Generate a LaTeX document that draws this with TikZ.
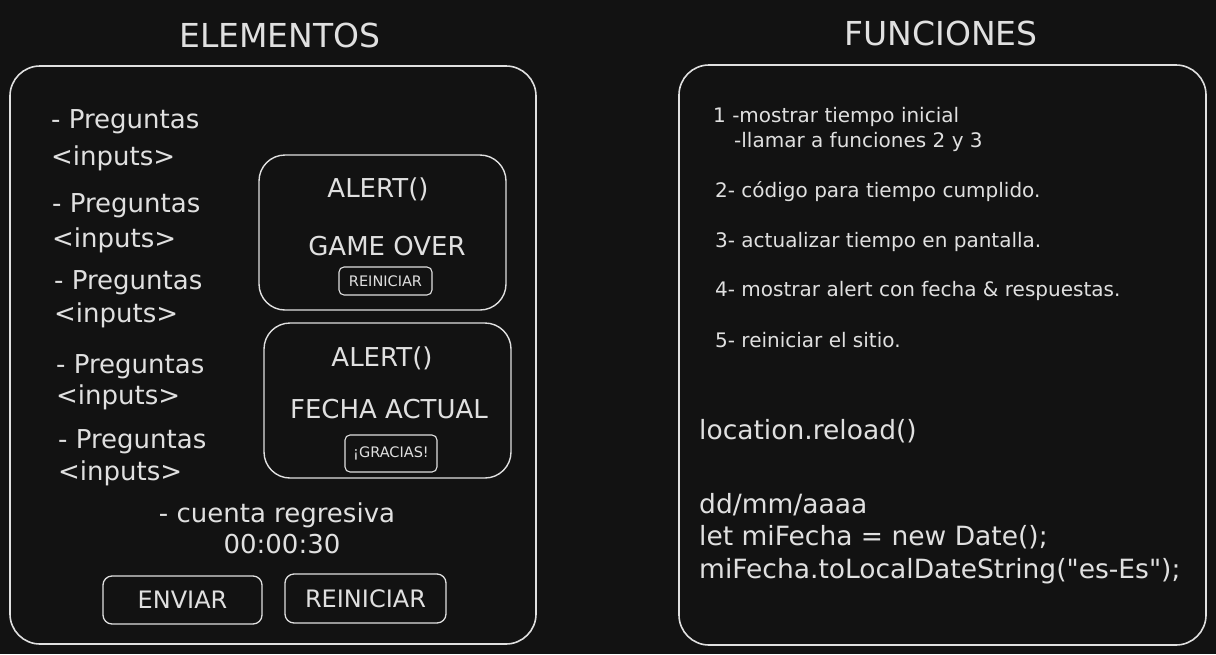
\documentclass[tikz,border=0pt]{standalone}
\usepackage{fontspec}
\setmainfont{DejaVu Sans}
\usetikzlibrary{positioning}

\definecolor{board}{HTML}{121212}
\definecolor{ink}{HTML}{E0E0E0}

\begin{document}
\begin{tikzpicture}[
  x=1pt, y=-1pt,
  every node/.style={text=ink, inner sep=0pt, font=\fontsize{26}{31}\selectfont},
  panel/.style={draw=ink, line width=1.6pt, rounded corners=30pt},
  popup/.style={draw=ink, line width=1.4pt, rounded corners=26pt},
  btn/.style={draw=ink, line width=1.3pt, rounded corners=9pt,
              font=\fontsize{24}{28}\selectfont},
  minibtn/.style={draw=ink, line width=1.1pt, rounded corners=5pt,
                  font=\fontsize{14.5}{17}\selectfont},
  titlenode/.style={font=\fontsize{33}{38}\selectfont},
  stepnode/.style={anchor=west, font=\fontsize{20}{24}\selectfont},
  codenode/.style={anchor=west, font=\fontsize{26.5}{31}\selectfont}
]
  \fill[board] (0,0) rectangle (1216,654);

  % titles and frames
  \node[titlenode] (elTitle) at (280,35) {ELEMENTOS};
  \node[titlenode] (fnTitle) at (941,33) {FUNCIONES};
  \node[panel, minimum width=526pt, minimum height=578pt] (elFrame) at (273,355) {};
  \node[panel, minimum width=527pt, minimum height=580pt] (fnFrame) at (942.5,355) {};

  % preguntas
  \node[anchor=west] (preg1) at (51,122) {- Preguntas};
  \node[anchor=west] (inp1)  at (51,158) {<inputs>};
  \node[anchor=west] (preg2) at (52,206) {- Preguntas};
  \node[anchor=west] (inp2)  at (52,240) {<inputs>};
  \node[anchor=west] (preg3) at (54,283) {- Preguntas};
  \node[anchor=west] (inp3)  at (54,315) {<inputs>};
  \node[anchor=west] (preg4) at (56,367) {- Preguntas};
  \node[anchor=west] (inp4)  at (56,397) {<inputs>};
  \node[anchor=west] (preg5) at (58,442) {- Preguntas};
  \node[anchor=west] (inp5)  at (58,473) {<inputs>};

  % alert boxes
  \node[popup, minimum width=247pt, minimum height=155pt] (overBox) at (382.5,232.5) {};
  \node (overAlert) at (378,189) {ALERT()};
  \node (overText)  at (387,246) {GAME OVER};
  \node[minibtn, minimum width=93pt, minimum height=28pt] (overBtn) at (385.5,281) {REINICIAR};

  \node[popup, minimum width=247pt, minimum height=155pt] (dateBox) at (387.5,400.5) {};
  \node (dateAlert) at (382,358) {ALERT()};
  \node (dateText)  at (389,409) {FECHA ACTUAL};
  \node[minibtn, minimum width=92pt, minimum height=37pt] (dateBtn) at (391,453.5) {¡GRACIAS!};

  % countdown and buttons
  \node (countLbl) at (277,515) {- cuenta regresiva};
  \node (countVal) at (282,544) {00:00:30};
  \node[btn, minimum width=159pt, minimum height=48pt] (sendBtn)  at (182.5,600) {ENVIAR};
  \node[btn, minimum width=161pt, minimum height=49pt] (resetBtn) at (365.5,598.5) {REINICIAR};

  % funciones
  \node[stepnode] (fn1)  at (713,117) {1 -mostrar tiempo inicial};
  \node[stepnode] (fn1b) at (734,142) {-llamar a funciones 2 y 3};
  \node[stepnode] (fn2)  at (715,192) {2- código para tiempo cumplido.};
  \node[stepnode] (fn3)  at (715,242) {3- actualizar tiempo en pantalla.};
  \node[stepnode] (fn4)  at (715,291) {4- mostrar alert con fecha \& respuestas.};
  \node[stepnode] (fn5)  at (715,340) {5- reiniciar el sitio.};

  \node[codenode] (reload) at (699,431) {location.reload()};
  \node[codenode] (fmt)    at (699,505) {dd/mm/aaaa};
  \node[codenode] (decl)   at (699,537) {let miFecha = new Date();};
  \node[codenode] (conv)   at (699,571) {miFecha.toLocalDateString(\textquotedbl es-Es\textquotedbl);};
\end{tikzpicture}
\end{document}
